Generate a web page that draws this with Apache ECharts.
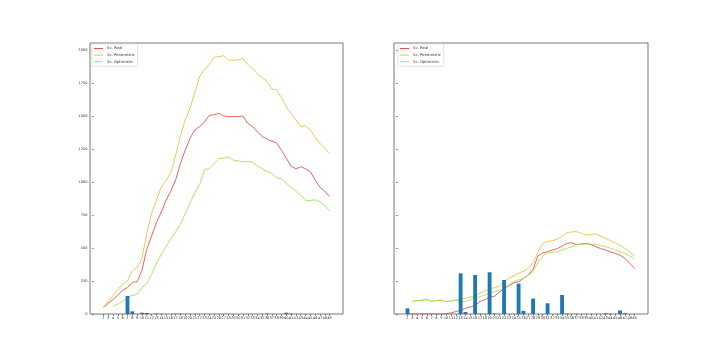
<!DOCTYPE html>
<html><head><meta charset="utf-8">
<script src="https://cdn.jsdelivr.net/npm/echarts@6/dist/echarts.min.js"></script>
<style>html,body{margin:0;padding:0;background:#fff}#c{width:720px;height:360px}</style>
</head><body><div id="c"></div>
<script>
// categories: x positions 2..49
var cats = [];
for (var c = 2; c <= 49; c++) cats.push(c);
var yTicks = [0, 250, 500, 750, 1000, 1250, 1500, 1750, 2000];

// Left panel
var leftBar = [0,0,0,0,0,136,20,0,10,8,0,3,2,0,0,2,2,0,0,0,0,0,0,0,0,0,0,0,0,0,0,0,0,0,2,0,0,0,10,3,0,0,0,0,0,0,0,0];
var leftReal = [50,80,110,145,180,200,240,245,330,490,590,690,770,860,930,1015,1140,1242,1330,1394,1420,1455,1505,1510,1520,1500,1495,1495,1495,1500,1445,1420,1380,1345,1325,1310,1295,1240,1180,1120,1100,1116,1100,1078,1015,960,930,890];
var leftPess = [50,95,140,185,225,250,330,350,420,610,760,860,960,1010,1070,1200,1350,1470,1560,1680,1800,1850,1890,1945,1950,1957,1925,1922,1924,1937,1890,1860,1820,1790,1760,1705,1697,1640,1570,1520,1470,1420,1424,1394,1340,1293,1255,1217];
var leftOpt = [null,null,60,75,95,130,140,150,200,230,300,380,450,510,570,620,680,760,840,920,980,1090,1104,1140,1180,1180,1190,1165,1160,1155,1155,1150,1120,1100,1080,1066,1033,1023,990,960,930,900,860,860,865,850,820,780];

// Right panel
var rightBar = [43,0,0,0,0,0,0,0,0,0,0,308,15,0,295,3,0,316,3,0,258,0,0,230,24,0,117,0,0,81,0,0,144,3,0,2,0,0,0,0,0,6,2,0,27,6,0,0];
var rightReal = [0,0,0,0,0,0,0,0,3,8,18,28,43,52,65,95,110,125,135,165,190,215,235,245,270,295,340,440,462,472,485,495,515,535,540,525,530,535,525,510,495,485,470,460,445,422,385,346];
var rightPess = [null,88,100,106,114,93,100,106,93,100,106,110,119,128,136,160,175,190,200,210,245,270,290,308,325,346,390,470,535,548,556,566,590,616,622,624,612,598,604,606,590,573,556,540,520,498,472,440];
var rightOpt = [null,100,101,104,106,98,102,106,93,98,101,95,93,110,119,130,144,158,169,180,194,220,245,258,270,295,320,390,440,462,468,472,485,498,510,525,530,530,530,528,520,510,498,485,470,458,440,414];

var names = ['Sc. Real', 'Sc. Pessimistic', 'Sc. Optimistic'];
var colors = ['#e8504a', '#e6c24a', '#a4e25e'];

function pairs(arr) {
  var out = [];
  for (var i = 0; i < arr.length; i++) if (arr[i] !== null) out.push([cats[i], arr[i]]);
  return out;
}

var FONT = 'DejaVu Sans';
function plain(v) { return String(v); }
function xAxis(gi) {
  return {
    type: 'value', gridIndex: gi, min: -0.79, max: 51.79,
    axisLine: {show: false},
    axisTick: {show: true, length: 2, customValues: cats, lineStyle: {color: '#444', width: 0.6}},
    axisLabel: {show: true, customValues: cats, formatter: plain, fontSize: 3.6, color: '#333', margin: 2.5, fontFamily: FONT},
    splitLine: {show: false}
  };
}
function yAxis(gi, showLabel) {
  return {
    type: 'value', gridIndex: gi, min: 0, max: 2053,
    axisLine: {show: false},
    axisTick: {show: true, length: 2, customValues: yTicks, lineStyle: {color: '#444', width: 0.6}},
    axisLabel: {show: showLabel, customValues: yTicks, formatter: plain, fontSize: 3.6, color: '#333', margin: 2.5, fontFamily: FONT},
    splitLine: {show: false}
  };
}

var series = [];
function addPanel(gi, bars, lines) {
  for (var s = 0; s < 3; s++) {
    series.push({
      name: names[s], type: 'line', xAxisIndex: gi, yAxisIndex: gi,
      data: pairs(lines[s]), showSymbol: false, symbol: 'none',
      lineStyle: {color: colors[s], width: 0.9}, itemStyle: {color: colors[s]},
      z: 2, animation: false
    });
  }
  series.push({
    type: 'bar', xAxisIndex: gi, yAxisIndex: gi, data: pairs(bars),
    barWidth: 3.85, itemStyle: {color: '#1f77b4'}, z: 3, animation: false
  });
}
addPanel(0, leftBar, [leftReal, leftPess, leftOpt]);
addPanel(1, rightBar, [rightReal, rightPess, rightOpt]);

function legend(left) {
  return {
    left: left, top: 44, orient: 'vertical',
    data: names.map(function (n, i) { return {name: n, icon: 'rect', itemStyle: {color: colors[i]}}; }),
    itemWidth: 9, itemHeight: 1, itemGap: 1.6,
    padding: [2, 3, 2, 2],
    backgroundColor: '#fff', borderColor: '#d8d8d8', borderWidth: 0.8, borderRadius: 1.5,
    textStyle: {fontSize: 3.8, color: '#333', fontFamily: FONT, lineHeight: 5, padding: [0, 0, 0, -1]},
    selectedMode: false
  };
}

var chart = echarts.init(document.getElementById('c'), null, {renderer: 'canvas'});
chart.setOption({
  backgroundColor: '#fff',
  animation: false,
  grid: [
    {left: 90, right: 377, top: 43, bottom: 46, show: true, borderColor: '#555', borderWidth: 0.8, backgroundColor: 'transparent'},
    {left: 394, right: 72, top: 43, bottom: 46, show: true, borderColor: '#555', borderWidth: 0.8, backgroundColor: 'transparent'}
  ],
  xAxis: [xAxis(0), xAxis(1)],
  yAxis: [yAxis(0, true), yAxis(1, false)],
  legend: [legend(92), legend(398)],
  series: series
});
</script>
</body></html>
